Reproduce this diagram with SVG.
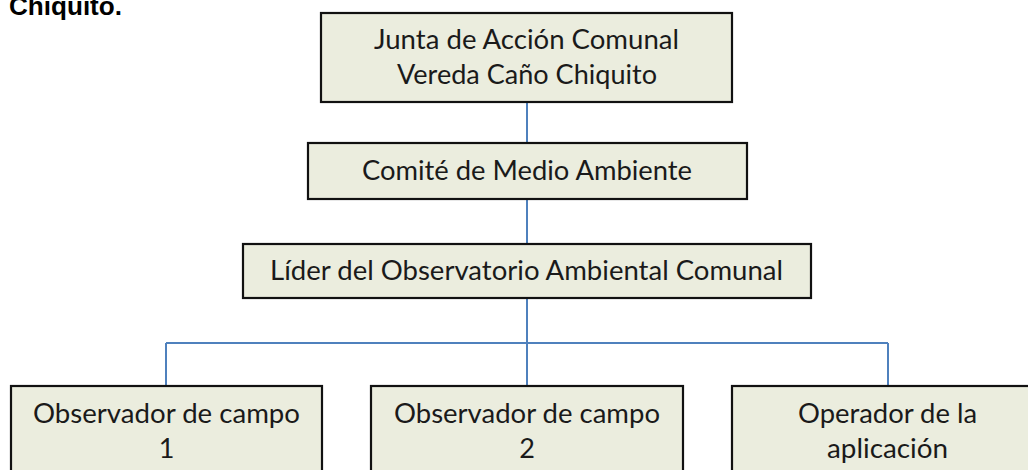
<svg xmlns="http://www.w3.org/2000/svg" width="1028" height="470" viewBox="0 0 1028 470">
<style>
.box{fill:#EBEDDE;stroke:#111;stroke-width:2.2}
.t{font-family:Lato,"Open Sans","Liberation Sans",sans-serif;font-size:27px;fill:#1a1a1a;text-anchor:middle}
.c{fill:none;stroke:#4F81BD;stroke-width:2}
.h{font-family:"Liberation Sans",Arial,sans-serif;font-weight:bold;font-size:25px;fill:#000}
</style>
<rect width="1028" height="470" fill="#fff"/>
<text class="h" x="9" y="15" textLength="113" lengthAdjust="spacingAndGlyphs">Chiquito.</text>
<g id="connectors">
<path class="c" d="M527 102V143M527 199V244M527 298V343M166 343H888M166 343V386M527 343V386M888 343V386"/>
</g>
<g id="junta">
<rect class="box" x="321" y="13" width="411" height="89"/>
<text class="t" x="526.5" y="49" textLength="305" lengthAdjust="spacingAndGlyphs">Junta de Acción Comunal</text>
<text class="t" x="527" y="84" textLength="260" lengthAdjust="spacingAndGlyphs">Vereda Caño Chiquito</text>
</g>
<g id="comite">
<rect class="box" x="308" y="143" width="439" height="56"/>
<text class="t" x="527" y="180" textLength="330" lengthAdjust="spacingAndGlyphs">Comité de Medio Ambiente</text>
</g>
<g id="lider">
<rect class="box" x="243" y="244" width="568" height="54"/>
<text class="t" x="526.5" y="280" textLength="513" lengthAdjust="spacingAndGlyphs">Líder del Observatorio Ambiental Comunal</text>
</g>
<g id="obs1">
<rect class="box" x="11" y="386" width="311" height="110"/>
<text class="t" x="166.5" y="423" textLength="267" lengthAdjust="spacingAndGlyphs">Observador de campo</text>
<text class="t" x="166.5" y="458">1</text>
</g>
<g id="obs2">
<rect class="box" x="371" y="386" width="312" height="110"/>
<text class="t" x="527" y="423" textLength="266" lengthAdjust="spacingAndGlyphs">Observador de campo</text>
<text class="t" x="527" y="458">2</text>
</g>
<g id="operador">
<rect class="box" x="732" y="386" width="312" height="110"/>
<text class="t" x="887.5" y="423" textLength="179" lengthAdjust="spacingAndGlyphs">Operador de la</text>
<text class="t" x="887.5" y="458" textLength="121" lengthAdjust="spacingAndGlyphs">aplicación</text>
</g>
</svg>
